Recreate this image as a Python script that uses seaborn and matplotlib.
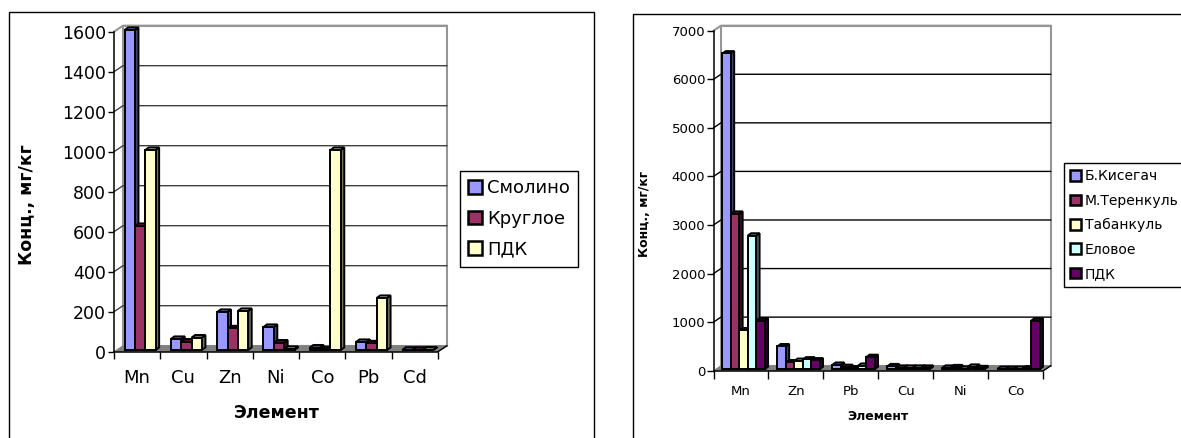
import numpy as np
import pandas as pd
import matplotlib
matplotlib.use("Agg")
import matplotlib.pyplot as plt
import seaborn as sns
from matplotlib.patches import Polygon, Rectangle, Patch
from matplotlib.lines import Line2D
from matplotlib.transforms import Affine2D

# ---------------- data ----------------
elements_left = ["Mn", "Cu", "Zn", "Ni", "Co", "Pb", "Cd"]
series_left = ["Смолино", "Круглое", "ПДК"]
smolino = [1600, 55, 190, 115, 12, 40, 1]
krugloe = [620, 42, 108, 37, 3, 33, 1]
pdk_left = [1000, 62, 195, 5, 1000, 260, 2]
colors_left = ["#9999FF", "#993366", "#FFFFCC"]

elements_right = ["Mn", "Zn", "Pb", "Cu", "Ni", "Co"]
series_right = ["Б.Кисегач", "М.Теренкуль", "Табанкуль", "Еловое", "ПДК"]
b_kisegach = [6500, 470, 90, 60, 30, 5]
m_terenkul = [3200, 140, 45, 30, 40, 5]
tabankul = [800, 170, 15, 30, 10, 5]
elovoe = [2750, 200, 70, 30, 50, 15]
pdk_right = [1000, 180, 250, 30, 20, 1000]
colors_right = ["#9999FF", "#993366", "#FFFFCC", "#CCFFFF", "#660066"]

ylabel_text = "Конц., мг/кг"
xlabel_text = "Элемент"

# ---------------- style ----------------
W, H = 1181, 438
sns.set_style("white")
plt.rcParams["font.family"] = ["DejaVu Sans"]
plt.rcParams.update({"text.color": "black", "axes.labelcolor": "black",
                     "xtick.color": "black", "ytick.color": "black"})

fig = plt.figure(figsize=(W / 100, H / 100), dpi=100)
fig.patch.set_facecolor("white")


def fx(px):
    return px / W


def fy(py):
    return 1 - py / H


def darker(c, f=0.55):
    r, g, b = matplotlib.colors.to_rgb(c)
    return (r * f, g * f, b * f)


def panel(rect_px, elements, names, values, colors, ymax, ystep, depth,
          bar_shift, bar_depth, width, grid_color, ytick_fs, xtick_fs,
          ticklen, ytick_pad, xtick_pad, edge_lw):
    left, top, right, bottom = rect_px
    ax = fig.add_axes([fx(left), fy(bottom), (right - left) / W, (bottom - top) / H])
    rows = []
    for name, vals in zip(names, values):
        for el, v in zip(elements, vals):
            rows.append((el, name, v))
    df = pd.DataFrame(rows, columns=["Элемент", "Ряд", "Значение"])
    sns.barplot(data=df, x="Элемент", y="Значение", hue="Ряд", order=elements,
                hue_order=names, palette=colors, width=width, gap=0,
                saturation=1, dodge=True, errorbar=None, edgecolor="black",
                linewidth=edge_lw, legend=False, ax=ax)
    n = len(elements)
    x0, x1 = -0.5, n - 0.5
    ax.set_xlim(x0, x1)
    ax.set_ylim(0, ymax)
    ax.patch.set_visible(False)
    for s in ["top", "right"]:
        ax.spines[s].set_visible(False)
    for s in ["left", "bottom"]:
        ax.spines[s].set_color("black")
        ax.spines[s].set_linewidth(1.1)
        ax.spines[s].set_zorder(2)

    to_px = ax.transData.transform
    to_data = ax.transData.inverted().transform

    def off(x, y, ox, oy):
        p = to_px((x, y))
        return tuple(to_data((p[0] + ox, p[1] + oy)))

    dx, dy = depth
    bars = sorted([p for p in ax.patches if isinstance(p, Rectangle)],
                  key=lambda p: p.get_x())

    # back wall
    ax.add_patch(Polygon([off(x0, 0, dx, dy), off(x1, 0, dx, dy),
                          off(x1, ymax, dx, dy), off(x0, ymax, dx, dy)],
                         closed=True, facecolor="white", edgecolor="#969696",
                         lw=1.5, zorder=0.3, clip_on=False))
    # floor
    ax.add_patch(Polygon([(x0, 0), (x1, 0), off(x1, 0, dx, dy), off(x0, 0, dx, dy)],
                         closed=True, facecolor="#808080", edgecolor="#808080",
                         lw=0.6, zorder=0.6, clip_on=False))
    # gridlines (with diagonal across the side wall)
    ticks = np.arange(0, ymax + 1, ystep)
    for yv in ticks[1:]:
        a = off(x0, yv, dx, dy)
        b = off(x1, yv, dx, dy)
        col = grid_color if yv < ymax else "#969696"
        lw = 1.0 if yv < ymax else 1.5
        ax.add_line(Line2D([x0, a[0], b[0]], [yv, a[1], b[1]], color=col,
                           lw=lw, zorder=0.5, clip_on=False))
    # right floor diagonal
    c = off(x1, 0, dx, dy)
    ax.add_line(Line2D([x1, c[0]], [0, c[1]], color="black", lw=1.0,
                       zorder=0.7, clip_on=False))

    # 3D bars
    sx, sy = bar_shift
    bdx, bdy = bar_depth
    for k, p in enumerate(bars):
        bx0, bw, bh = p.get_x(), p.get_width(), p.get_height()
        bx1 = bx0 + bw
        fc = p.get_facecolor()
        p.set_transform(ax.transData + Affine2D().translate(sx, sy))
        p.set_clip_on(False)
        p.set_zorder(3 + 3 * k + 2)
        side = Polygon([off(bx1, 0, sx, sy), off(bx1, bh, sx, sy),
                        off(bx1, bh, sx + bdx, sy + bdy), off(bx1, 0, sx + bdx, sy + bdy)],
                       closed=True, facecolor=darker(fc, 0.45), edgecolor="black",
                       lw=edge_lw, zorder=3 + 3 * k, clip_on=False)
        topf = Polygon([off(bx0, bh, sx, sy), off(bx1, bh, sx, sy),
                        off(bx1, bh, sx + bdx, sy + bdy), off(bx0, bh, sx + bdx, sy + bdy)],
                       closed=True, facecolor=darker(fc, 0.7), edgecolor="black",
                       lw=edge_lw, zorder=3 + 3 * k + 1, clip_on=False)
        ax.add_patch(side)
        ax.add_patch(topf)

    # ticks
    ax.set_yticks(ticks)
    ax.set_yticklabels([str(int(t)) for t in ticks])
    ax.tick_params(axis="y", direction="out", length=ticklen, width=1.0,
                   labelsize=ytick_fs, pad=ytick_pad, left=True)
    ax.set_xticks(range(n))
    ax.set_xticklabels(elements)
    ax.set_xticks(np.arange(-0.5, n, 1), minor=True)
    ax.tick_params(axis="x", which="major", length=0, labelsize=xtick_fs,
                   pad=xtick_pad, bottom=True)
    ax.tick_params(axis="x", which="minor", length=ticklen + 1, width=1.0,
                   direction="out", bottom=True)
    ax.set_xlabel("")
    ax.set_ylabel("")
    return ax


# outer chart borders
fig.add_artist(Rectangle((fx(9.5), -0.05), fx(594) - fx(9.5), fy(11.7) + 0.05,
                         transform=fig.transFigure, fill=False,
                         edgecolor="black", lw=1.0))
fig.add_artist(Rectangle((fx(633), -0.05), 0.5, fy(14) + 0.05,
                         transform=fig.transFigure, fill=False,
                         edgecolor="black", lw=1.0))

# left chart
panel((114, 31.7, 438, 351.7), elements_left, series_left,
      [smolino, krugloe, pdk_left], colors_left, 1600, 200,
      depth=(9, 6), bar_shift=(3, 1.7), bar_depth=(3.5, 2.6), width=0.67,
      grid_color="#404040", ytick_fs=12.5, xtick_fs=13, ticklen=4.3,
      ytick_pad=1.5, xtick_pad=12.5, edge_lw=1.4)

# right chart
panel((713.5, 30.7, 1043.4, 370.7), elements_right, series_right,
      [b_kisegach, m_terenkul, tabankul, elovoe, pdk_right], colors_right,
      7000, 1000, depth=(7.5, 5), bar_shift=(2.6, 1.5), bar_depth=(3.3, 2.4),
      width=0.77, grid_color="black", ytick_fs=9.5, xtick_fs=9.5, ticklen=5,
      ytick_pad=1.0, xtick_pad=10, edge_lw=1.4)

# axis titles
fig.text(fx(27), fy(205), ylabel_text, rotation=90, ha="center", va="center",
         fontsize=12.5, fontweight="bold")
fig.text(fx(277), fy(413), xlabel_text, ha="center", va="center",
         fontsize=12.5, fontweight="bold")
fig.text(fx(645), fy(214), ylabel_text, rotation=90, ha="center", va="center",
         fontsize=9, fontweight="bold")
fig.text(fx(878), fy(416), xlabel_text, ha="center", va="center",
         fontsize=9, fontweight="bold")

# legends
def make_legend(names, colors, x_px, y_px, fs, spacing):
    handles = [Patch(facecolor=c, edgecolor="black", linewidth=1.8) for c in colors]
    leg = fig.legend(handles, names, loc="upper left",
                     bbox_to_anchor=(fx(x_px), fy(y_px)),
                     bbox_transform=fig.transFigure, frameon=True,
                     fancybox=False, shadow=False, fontsize=fs,
                     handlelength=0.75, handleheight=0.8, handletextpad=0.3,
                     labelspacing=spacing, borderpad=0.45, borderaxespad=0)
    fr = leg.get_frame()
    fr.set_edgecolor("black")
    fr.set_linewidth(1.0)
    fr.set_facecolor("white")
    fr.set_alpha(1)
    return leg


make_legend(series_left, colors_left, 460, 171, 13, 0.7)
make_legend(series_right, colors_right, 1064, 163, 10, 0.75)

fig.savefig("out.png", dpi=100, facecolor="white")
